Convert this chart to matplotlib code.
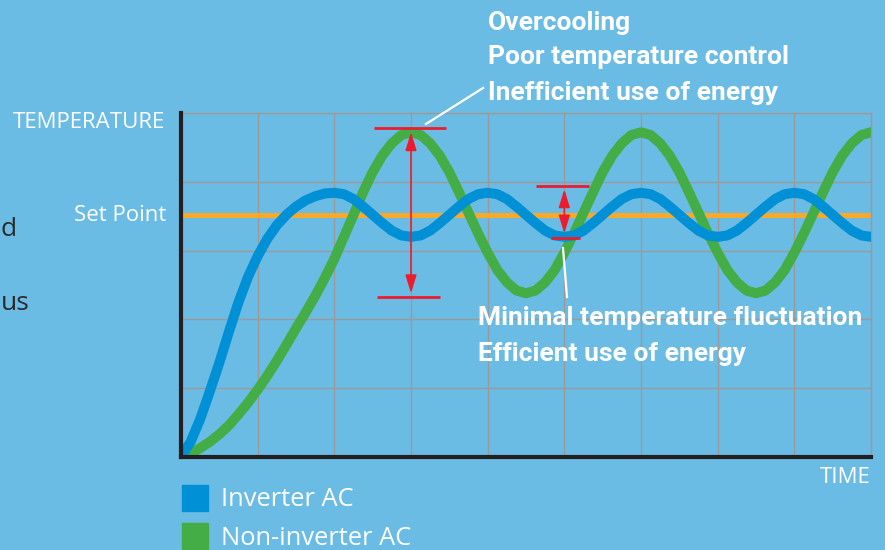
import matplotlib
matplotlib.use("Agg")
import matplotlib.pyplot as plt
from matplotlib.patches import Rectangle
from matplotlib.lines import Line2D

# ---------------- data ----------------
x_time = [0.0, 0.125, 0.25, 0.375, 0.5, 0.625, 0.75, 0.875,
          1.0, 1.125, 1.25, 1.375, 1.5, 1.625, 1.75, 1.875,
          2.0, 2.125, 2.25, 2.375, 2.5, 2.625, 2.75, 2.875,
          3.0, 3.125, 3.25, 3.375, 3.5, 3.625, 3.75, 3.875,
          4.0, 4.125, 4.25, 4.375, 4.5, 4.625, 4.75, 4.875,
          5.0, 5.125, 5.25, 5.375, 5.5, 5.625, 5.75, 5.875,
          6.0, 6.125, 6.25, 6.375, 6.5, 6.625, 6.75, 6.875,
          7.0, 7.125, 7.25, 7.375, 7.5, 7.625, 7.75, 7.875,
          8.0, 8.125, 8.25, 8.375, 8.5, 8.625, 8.75, 8.875, 9.0]

inverter = [0.0, 0.22, 0.55, 0.95, 1.37, 1.82, 2.25, 2.62,
            2.92, 3.17, 3.37, 3.52, 3.64, 3.73, 3.79, 3.83,
            3.84, 3.82, 3.75, 3.64, 3.52, 3.40, 3.29, 3.22,
            3.20, 3.22, 3.29, 3.40, 3.52, 3.64, 3.75, 3.82,
            3.84, 3.82, 3.75, 3.64, 3.52, 3.40, 3.29, 3.22,
            3.20, 3.22, 3.29, 3.40, 3.52, 3.64, 3.75, 3.82,
            3.84, 3.82, 3.75, 3.64, 3.52, 3.40, 3.29, 3.22,
            3.20, 3.22, 3.29, 3.40, 3.52, 3.64, 3.75, 3.82,
            3.84, 3.82, 3.75, 3.64, 3.52, 3.40, 3.29, 3.22, 3.20]

non_inverter = [0.0, 0.05, 0.13, 0.22, 0.33, 0.46, 0.62, 0.79,
                0.98, 1.18, 1.40, 1.63, 1.87, 2.10, 2.34, 2.60,
                2.88, 3.20, 3.52, 3.85, 4.14, 4.38, 4.56, 4.68,
                4.72, 4.68, 4.56, 4.38, 4.14, 3.85, 3.55, 3.25,
                2.97, 2.72, 2.54, 2.42, 2.38, 2.42, 2.54, 2.72,
                2.97, 3.25, 3.55, 3.85, 4.14, 4.38, 4.56, 4.68,
                4.72, 4.68, 4.56, 4.38, 4.14, 3.85, 3.55, 3.25,
                2.97, 2.72, 2.54, 2.42, 2.38, 2.42, 2.54, 2.72,
                2.97, 3.25, 3.55, 3.85, 4.14, 4.38, 4.56, 4.68, 4.72]

set_point = 3.52
series_names = ["Inverter AC", "Non-inverter AC"]

# annotation markers (data units)
big_top, big_bottom, big_x = 4.78, 2.33, 3.0
small_top, small_bottom, small_x = 3.94, 3.18, 5.0

notes_top = ["Overcooling", "Poor temperature control", "Inefficient use of energy"]
notes_bottom = ["Minimal temperature fluctuation", "Efficient use of energy"]

# ---------------- style ----------------
BG = "#6bbce5"
BLUE = "#0090d5"
GREEN = "#45ad45"
ORANGE = "#f8a92a"
RED = "#ec1c2e"
GRID = "#9a9a9a"
W, H = 885, 550

fig = plt.figure(figsize=(W / 100, H / 100), dpi=100, facecolor=BG)


def fx(x):
    return x / W


def fy(y):
    return 1 - y / H


ax = fig.add_axes([fx(181), fy(457), fx(871) - fx(181), fy(113) - fy(457)])
ax.set_facecolor(BG)
ax.set_xlim(0, 9)
ax.set_ylim(0, 5)
ax.set_xticks(range(0, 10))
ax.set_yticks(range(0, 6))
ax.tick_params(length=0, labelbottom=False, labelleft=False)
ax.grid(True, color=GRID, lw=1.0)
ax.set_axisbelow(True)
for s in ["top", "right"]:
    ax.spines[s].set_color(GRID)
    ax.spines[s].set_linewidth(1.0)
for s in ["left", "bottom"]:
    ax.spines[s].set_color("#231f20")
    ax.spines[s].set_linewidth(3.0)
    ax.spines[s].set_zorder(6)

ax.axhline(set_point, color=ORANGE, lw=3.6, zorder=2)
ax.plot(x_time, non_inverter, color=GREEN, lw=7.2, solid_capstyle="round",
        solid_joinstyle="round", zorder=3)
ax.plot(x_time, inverter, color=BLUE, lw=7.2, solid_capstyle="round",
        solid_joinstyle="round", zorder=4)

# red markers
ax.plot([2.52, 3.46], [big_top, big_top], color=RED, lw=2.0, zorder=5, solid_capstyle="butt")
ax.plot([2.56, 3.38], [big_bottom, big_bottom], color=RED, lw=2.0, zorder=5, solid_capstyle="butt")
ax.plot([4.63, 5.32], [small_top, small_top], color=RED, lw=2.0, zorder=5, solid_capstyle="butt")
ax.plot([4.83, 5.21], [small_bottom, small_bottom], color=RED, lw=2.0, zorder=5, solid_capstyle="butt")
arrow = dict(arrowstyle="<|-|>,head_length=0.55,head_width=0.17", color=RED, lw=1.2,
             shrinkA=0, shrinkB=0, mutation_scale=20)
ax.annotate("", xy=(big_x, big_top - 0.06), xytext=(big_x, big_bottom + 0.05),
            arrowprops=arrow, zorder=5)
ax.annotate("", xy=(small_x, small_top - 0.05), xytext=(small_x, small_bottom + 0.07),
            arrowprops=arrow, zorder=5)

# white leader lines
fig.add_artist(Line2D([fx(426), fx(483)], [fy(124), fy(88)], color="white", lw=1.6,
                      transform=fig.transFigure, zorder=7))
fig.add_artist(Line2D([fx(563), fx(567)], [fy(248), fy(297)], color="white", lw=1.6,
                      transform=fig.transFigure, zorder=7))

BOLD = ["Roboto", "DejaVu Sans"]
REG = ["Open Sans", "DejaVu Sans"]

for txt, yb in zip(notes_top, [30, 64, 100]):
    fig.text(fx(488), fy(yb), txt, color="white", fontsize=19, fontweight="bold",
             family=BOLD, ha="left", va="baseline")
for txt, yb in zip(notes_bottom, [325, 361]):
    fig.text(fx(478), fy(yb), txt, color="white", fontsize=19, fontweight="bold",
             family=BOLD, ha="left", va="baseline")

fig.text(fx(165), fy(128), "TEMPERATURE", color="white", fontsize=16, family=REG,
         ha="right", va="baseline")
fig.text(fx(166), fy(221), "Set Point", color="white", fontsize=16, family=REG,
         ha="right", va="baseline")
fig.text(fx(871), fy(483), "TIME", color="white", fontsize=16, family=REG,
         ha="right", va="baseline")

# legend
for name, col, top, base in zip(series_names, [BLUE, GREEN], [485, 523], [506, 545]):
    fig.add_artist(Rectangle((fx(182), fy(top + 26)), fx(26), 26 / H, color=col,
                             transform=fig.transFigure))
    fig.text(fx(221), fy(base), name, color="white", fontsize=18.4, family=REG,
             ha="left", va="baseline")

# partially visible neighbour text at left edge
fig.text(fx(1), fy(236), "d", color="#2b2b2b", fontsize=19, family=REG,
         ha="left", va="baseline")
fig.text(fx(1), fy(310), "us", color="#2b2b2b", fontsize=19, family=REG,
         ha="left", va="baseline")

fig.savefig("out.png", dpi=100, facecolor=BG)
